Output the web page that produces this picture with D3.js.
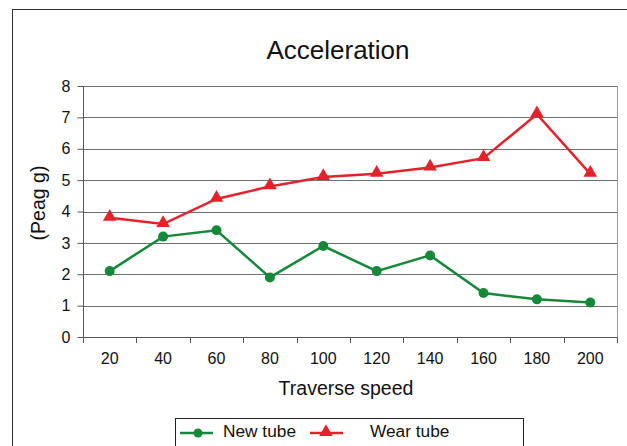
<!DOCTYPE html>
<html><head><meta charset="utf-8">
<script src="https://cdn.jsdelivr.net/npm/d3@7"></script>
<style>body{margin:0;background:#fff}svg{display:block}text{font-family:"Liberation Sans",Arial,sans-serif;fill:#111}</style>
</head><body>
<svg id="c" width="627" height="446"></svg>
<script>
const categories = ["20","40","60","80","100","120","140","160","180","200"];
const newTube = [2.1,3.2,3.4,1.9,2.9,2.1,2.6,1.4,1.2,1.1];
const wearTube = [3.8,3.6,4.4,4.8,5.1,5.2,5.4,5.7,7.1,5.2];
const yTicks = [0,1,2,3,4,5,6,7,8];
const seriesNames = ["New tube","Wear tube"];

const svg = d3.select("#c");
const L=83,R=617,T=86,B=337;
const x = d3.scaleBand().domain(categories).range([L,R]);
const y = d3.scaleLinear().domain([0,8]).range([B,T]);
const green="#17873a", red="#e3222b";
const FF="Liberation Sans, Arial, sans-serif";

svg.append("rect").attr("x",12.5).attr("y",9.5).attr("width",640).attr("height",460).attr("fill","none").attr("stroke","#333").attr("stroke-width",1);

// grid
svg.append("g").selectAll("line").data(yTicks.slice(1)).join("line")
 .attr("x1",L).attr("x2",R).attr("y1",d=>Math.round(y(d))+0.5).attr("y2",d=>Math.round(y(d))+0.5)
 .attr("stroke","#707070").attr("stroke-width",1);
svg.append("line").attr("x1",R+0.5).attr("x2",R+0.5).attr("y1",T).attr("y2",B).attr("stroke","#999");

// y axis
const ya = svg.append("g").attr("transform",`translate(${L+0.5},0)`)
 .call(d3.axisLeft(y).tickValues(yTicks).tickSize(6).tickPadding(7).tickFormat(d3.format("d")));
ya.select(".domain").attr("stroke","#555").attr("d",`M-0,${T}V${B}`);
ya.selectAll(".tick line").attr("stroke","#555");
ya.selectAll("text").attr("font-size",16).attr("font-family",FF).attr("fill","#111");

// x axis
const xa = svg.append("g").attr("transform",`translate(0,${B+0.5})`)
 .call(d3.axisBottom(x).tickSize(0).tickPadding(15));
xa.select(".domain").attr("stroke","#555").attr("d",`M${L},0H${R}`);
xa.selectAll("text").attr("font-size",16).attr("font-family",FF).attr("fill","#111");
const bounds = categories.map(c=>x(c)).concat([R]);
svg.append("g").selectAll("line").data(bounds).join("line")
 .attr("x1",d=>Math.round(d)+0.5).attr("x2",d=>Math.round(d)+0.5).attr("y1",B).attr("y2",B+6).attr("stroke","#555");

// titles
svg.append("text").attr("x",338).attr("y",59).attr("text-anchor","middle").attr("font-size",26).text("Acceleration");
svg.append("text").attr("x",346).attr("y",395).attr("text-anchor","middle").attr("font-size",19.5).text("Traverse speed");
svg.append("text").attr("transform","translate(45,203) rotate(-90)").attr("text-anchor","middle").attr("font-size",19.5).text("(Peag g)");

const cx = c=>x(c)+x.bandwidth()/2;
const line = d3.line().x((d,i)=>cx(categories[i])).y(d=>y(d));
svg.append("path").datum(newTube).attr("d",line).attr("fill","none").attr("stroke",green).attr("stroke-width",2.5);
svg.append("path").datum(wearTube).attr("d",line).attr("fill","none").attr("stroke",red).attr("stroke-width",2.5);
svg.append("g").selectAll("circle").data(newTube).join("circle")
 .attr("cx",(d,i)=>cx(categories[i])).attr("cy",d=>y(d)).attr("r",5).attr("fill",green);
const tri = d3.symbol().type(d3.symbolTriangle).size(80);
svg.append("g").selectAll("path").data(wearTube).join("path")
 .attr("transform",(d,i)=>`translate(${cx(categories[i])},${y(d)-1})`).attr("d",tri).attr("fill",red);

// legend
svg.append("rect").attr("x",175.5).attr("y",418.5).attr("width",348).attr("height",40).attr("fill","#fff").attr("stroke","#222");
svg.append("line").attr("x1",180).attr("x2",213).attr("y1",433).attr("y2",433).attr("stroke",green).attr("stroke-width",2.5);
svg.append("circle").attr("cx",198).attr("cy",433).attr("r",4.5).attr("fill",green);
svg.append("text").attr("x",223).attr("y",437).attr("font-size",17.3).text(seriesNames[0]);
svg.append("line").attr("x1",310).attr("x2",343).attr("y1",433).attr("y2",433).attr("stroke",red).attr("stroke-width",2.5);
svg.append("path").attr("transform","translate(326,432)").attr("d",tri).attr("fill",red);
svg.append("text").attr("x",370).attr("y",437).attr("font-size",17.3).text(seriesNames[1]);
</script>
</body></html>
